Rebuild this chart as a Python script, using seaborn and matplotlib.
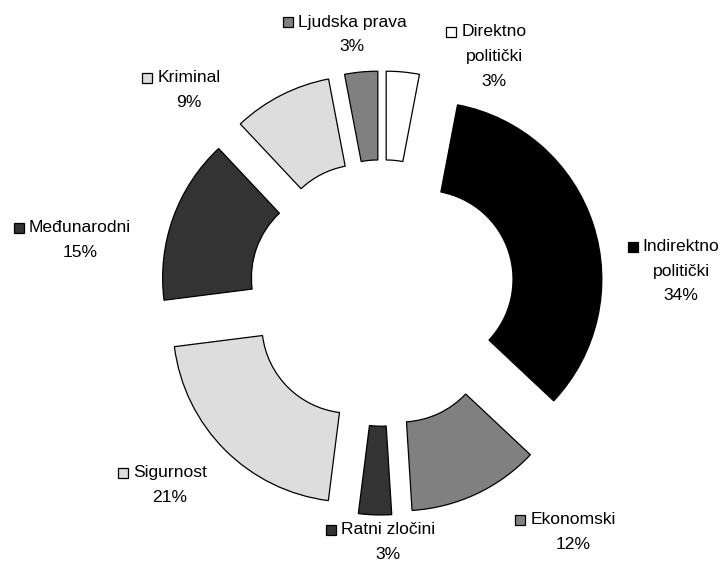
import matplotlib
matplotlib.use("Agg")
import matplotlib.pyplot as plt
from matplotlib.patches import Rectangle
from matplotlib.transforms import IdentityTransform
import seaborn as sns

# podaci (u smjeru kazaljke od vrha)
kategorije = ["Direktno politički", "Indirektno politički", "Ekonomski", "Ratni zločini",
              "Sigurnost", "Međunarodni", "Kriminal", "Ljudska prava"]
postoci = [3, 34, 12, 3, 21, 15, 9, 3]
boje = ["#FFFFFF", "#000000", "#808080", "#333333", "#DDDDDD", "#333333", "#DDDDDD", "#808080"]
# tekst labela po redovima
redovi = [["Direktno", "politički"], ["Indirektno", "politički"], ["Ekonomski"], ["Ratni zločini"],
          ["Sigurnost"], ["Međunarodni"], ["Kriminal"], ["Ljudska prava"]]

# raspored labela u pikselima (centar teksta x, y prvog reda od vrha)
pozicije = [(494, 32), (681, 247), (573, 520), (388, 530),
            (170, 473), (80, 228), (189, 78), (352, 22)]

W, H = 723, 565
cx, cy, R = 382, 293, 177.6  # centar i radijus u pikselima
razmak = 24.5

sns.set_style("white")
plt.rcParams['font.family'] = ['Liberation Sans', 'DejaVu Sans']

fig = plt.figure(figsize=(W / 100, H / 100), dpi=100)
ax = fig.add_axes([0, 0, 1, 1])
ax.pie(postoci, colors=boje, startangle=90, counterclock=False,
       explode=[0.25] * len(postoci), radius=1,
       wedgeprops=dict(width=0.5, edgecolor='black', linewidth=0.9))
ax.set_xlim(-cx / R, (W - cx) / R)
ax.set_ylim((cy - H) / R, cy / R)
ax.set_aspect('equal')
ax.axis('off')

fig.canvas.draw()
renderer = fig.canvas.get_renderer()
for lines, pct, boja, (x, y) in zip(redovi, postoci, boje, pozicije):
    sve = lines + [f"{pct}%"]
    prvi = None
    for i, txt in enumerate(sve):
        t = fig.text(x / W, 1 - (y + i * razmak) / H, txt, ha='center', va='center',
                     fontsize=12.6, color='black')
        if i == 0:
            prvi = t
    bb = prvi.get_window_extent(renderer)
    yc = H - y
    fig.add_artist(Rectangle((bb.x0 - 15, yc - 5), 10, 10, transform=IdentityTransform(),
                             facecolor=boja, edgecolor='black', linewidth=0.9))

fig.savefig("out.png", dpi=100)
